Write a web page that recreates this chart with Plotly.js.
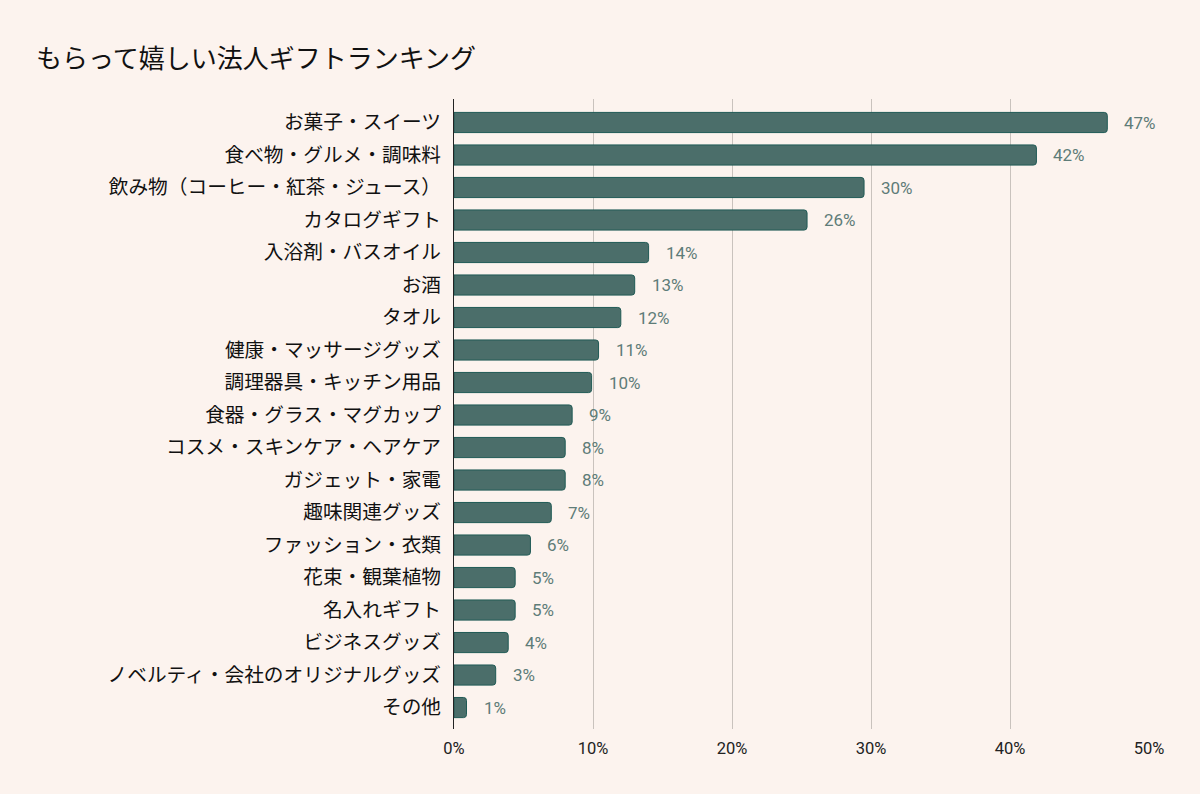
<!DOCTYPE html>
<html>
<head>
<meta charset="utf-8">
<script src="https://cdn.plot.ly/plotly-3.0.1.min.js"></script>
<style>
html,body{margin:0;padding:0;background:#FCF3EE;}
#chart{width:1200px;height:794px;}
</style>
</head>
<body>
<div id="chart"></div>
<script>
const categories = [
  "お菓子・スイーツ",
  "食べ物・グルメ・調味料",
  "飲み物（コーヒー・紅茶・ジュース）",
  "カタログギフト",
  "入浴剤・バスオイル",
  "お酒",
  "タオル",
  "健康・マッサージグッズ",
  "調理器具・キッチン用品",
  "食器・グラス・マグカップ",
  "コスメ・スキンケア・ヘアケア",
  "ガジェット・家電",
  "趣味関連グッズ",
  "ファッション・衣類",
  "花束・観葉植物",
  "名入れギフト",
  "ビジネスグッズ",
  "ノベルティ・会社のオリジナルグッズ",
  "その他"
];
const values = [47.0, 41.9, 29.5, 25.4, 14.0, 13.0, 12.0, 10.4, 9.9, 8.5, 8.0, 8.0, 7.0, 5.5, 4.4, 4.4, 3.9, 3.0, 0.9];
const valueLabels = ["47%","42%","30%","26%","14%","13%","12%","11%","10%","9%","8%","8%","7%","6%","5%","5%","4%","3%","1%"];
const xTickVals = [0, 10, 20, 30, 40, 50];
const xTickText = ["0%","10%","20%","30%","40%","50%"];
const chartTitle = "もらって嬉しい法人ギフトランキング";

const trace = {
  type: "bar",
  orientation: "h",
  x: values,
  y: categories,
  marker: {color: "#4B6E6A", line: {color: "#1F5A55", width: 1}, cornerradius: 3},
  hoverinfo: "none"
};

const annotations = categories.map((c, i) => ({
  x: values[i], y: c, xref: "x", yref: "y",
  text: valueLabels[i], showarrow: false,
  xanchor: "left", yanchor: "middle", xshift: 15,
  font: {family: "Roboto, sans-serif", size: 17, color: "#5E7C78"}
}));

const layout = {
  width: 1200, height: 794,
  paper_bgcolor: "#FCF3EE", plot_bgcolor: "#FCF3EE",
  margin: {l: 454, r: 51, t: 99, b: 65},
  showlegend: false,
  bargap: 0.38,
  title: {
    text: chartTitle,
    x: 36/1200, xanchor: "left", xref: "container",
    y: 1 - 59/794, yanchor: "middle", yref: "container",
    font: {family: "Noto Sans CJK JP, sans-serif", size: 26, color: "#111111"}
  },
  xaxis: {
    range: [0, 50],
    tickvals: xTickVals, ticktext: xTickText,
    showgrid: true, gridcolor: "#C9C2BD", gridwidth: 1,
    zeroline: false, showline: false,
    ticks: "", ticklabelstandoff: 7,
    tickfont: {family: "Roboto, sans-serif", size: 16.5, color: "#222222"},
    fixedrange: true
  },
  yaxis: {
    type: "category",
    range: [18.66, -0.723],
    showgrid: false, zeroline: false,
    showline: true, linecolor: "#222222", linewidth: 1,
    ticks: "", ticklabelstandoff: 8,
    tickfont: {family: "Noto Sans CJK JP, sans-serif", size: 19.7, color: "#111111"},
    fixedrange: true
  },
  annotations: annotations
};

Plotly.newPlot("chart", [trace], layout, {displayModeBar: false, staticPlot: true});
</script>
</body>
</html>
